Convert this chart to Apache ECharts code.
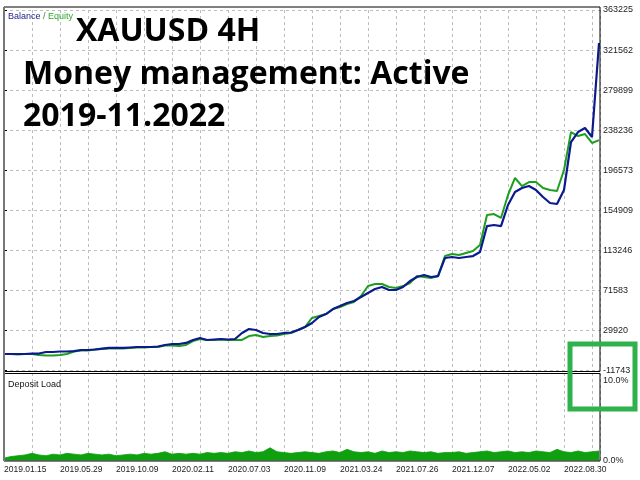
<!DOCTYPE html>
<html>
<head>
<meta charset="utf-8">
<script src="https://cdn.jsdelivr.net/npm/echarts@6/dist/echarts.min.js"></script>
<style>html,body{margin:0;padding:0;background:#fff}#c{width:640px;height:480px}</style>
</head>
<body>
<div id="c"></div>
<script>
const dateLabels = ['2019.01.15','2019.05.29','2019.10.09','2020.02.11','2020.07.03','2020.11.09','2021.03.24','2021.07.26','2021.12.07','2022.05.02','2022.08.30'];
const yTickLabels = ['-11743','29920','71583','113246','154909','196573','238236','279899','321562','363225'];
const depositTickLabels = ['0.0%','10.0%'];

const balance = [5400,5400,5400,5400,5900,5900,7500,7500,8000,8000,
  8500,9600,9600,10100,11100,11700,11700,11700,12200,12700,
  12700,12700,13200,14800,15800,15800,16900,20000,22100,20000,
  20500,21000,20500,21000,27300,31400,30400,27300,26200,26200,
  27300,27800,30400,33500,37700,43900,47000,52200,55300,58500,
  60500,64700,68900,73000,75100,72000,72000,75100,81300,85500,
  87600,85500,86500,105300,106300,105300,106300,107300,111500,138500,
  139600,138500,160400,173900,178100,180100,176000,168700,162500,161400,
  176000,225900,236300,240500,231100,328900];

const equity = [5400,5400,4900,5400,5400,4400,3800,3800,4400,5400,
  8000,9100,9100,10100,10600,11100,11100,11100,11700,12200,
  12200,12700,12700,14300,14300,13700,14800,18900,21000,20000,
  20000,20500,20000,20000,20000,24100,25200,23100,24100,24700,
  26200,27300,30400,33500,42900,44900,47000,52200,54300,57400,
  59500,65700,76100,78200,78200,75100,74100,76100,79300,86500,
  85500,84500,86500,107300,109400,108400,110500,112500,118800,150000,
  151000,146900,170800,188500,180100,184300,184300,178100,176000,174900,
  196800,236300,232100,234200,224900,227900];

const depositLoad = [0.3,0.5,0.6,0.7,0.9,0.7,0.6,0.8,0.7,0.9,
  0.8,0.7,0.9,0.8,0.7,0.8,0.6,0.7,0.8,0.7,
  0.9,0.8,0.9,1.1,0.8,0.9,0.8,0.9,0.8,1.0,
  0.9,1.0,0.9,1.1,1.0,1.2,1.0,1.1,1.6,1.1,
  1.0,0.9,1.0,1.1,1.0,0.9,1.1,1.2,1.0,1.4,
  1.1,1.0,1.1,0.9,1.2,1.0,1.1,1.0,1.2,1.1,
  1.0,1.1,0.9,1.0,1.0,1.1,0.9,1.0,1.1,1.2,
  1.0,1.1,1.2,1.0,1.1,1.0,1.2,1.1,1.0,1.4,
  1.1,1.0,1.2,1.0,1.1,1.2];

const Y_MIN = -11743, Y_STEP = 41663;
const X_MAX = 596 / 7;

const toPairs = arr => arr.map((v, i) => [i, v]);

const dashed = {show: true, lineStyle: {color: '#bdbdbd', type: [3, 3], width: 1}};
const font = '"Liberation Sans", Arial, sans-serif';

const chart = echarts.init(document.getElementById('c'), null, {renderer: 'canvas'});
chart.setOption({
  animation: false,
  backgroundColor: '#ffffff',
  grid: [
    {left: 4, right: 40, top: 10, height: 360.5},
    {left: 4, right: 40, top: 373, height: 87.5}
  ],
  xAxis: [
    {gridIndex: 0, type: 'value', min: 0, max: X_MAX, interval: 4,
     axisLine: {show: false}, axisTick: {show: false}, axisLabel: {show: false},
     splitLine: dashed},
    {gridIndex: 1, type: 'value', min: 0, max: X_MAX, interval: 4,
     axisLine: {show: false}, axisTick: {show: false},
     axisLabel: {show: true, align: 'left', margin: 5, fontSize: 8.5, color: '#222', fontFamily: font,
       formatter: v => {
         const k = v / 8;
         if (Math.abs(k - Math.round(k)) < 1e-6 && dateLabels[Math.round(k)]) return dateLabels[Math.round(k)];
         return '';
       }},
     splitLine: dashed}
  ],
  yAxis: [
    {gridIndex: 0, type: 'value', position: 'right', min: Y_MIN, max: Y_MIN + 9 * Y_STEP, interval: Y_STEP,
     axisLine: {show: true, lineStyle: {color: '#000', width: 1}},
     axisTick: {show: true, length: 3, lineStyle: {color: '#000'}},
     axisLabel: {show: true, margin: 3, fontSize: 9, color: '#222', fontFamily: font, padding: [3, 0, 0, 0],
       formatter: v => {
         const k = Math.round((v - Y_MIN) / Y_STEP);
         return yTickLabels[k] || '';
       }},
     splitLine: dashed},
    {gridIndex: 1, type: 'value', position: 'right', min: 0, max: 11, interval: 10,
     axisLine: {show: true, lineStyle: {color: '#000', width: 1}},
     axisTick: {show: false},
     axisLabel: {show: true, margin: 3, fontSize: 9, color: '#222', fontFamily: font, padding: [3, 0, 0, 0],
       formatter: v => v === 0 ? depositTickLabels[0] : (v === 10 ? depositTickLabels[1] : '')},
     splitLine: {show: false}}
  ],
  series: [
    {name: 'Equity', type: 'line', xAxisIndex: 0, yAxisIndex: 0, data: toPairs(equity),
     showSymbol: false, symbol: 'none', lineStyle: {color: '#1e9e1e', width: 2}, z: 2},
    {name: 'Balance', type: 'line', xAxisIndex: 0, yAxisIndex: 0, data: toPairs(balance),
     showSymbol: false, symbol: 'none', lineStyle: {color: '#0b1a8e', width: 2.2}, z: 3},
    {name: 'Deposit Load', type: 'line', xAxisIndex: 1, yAxisIndex: 1, data: toPairs(depositLoad),
     showSymbol: false, symbol: 'none', lineStyle: {color: '#0d9e0d', width: 0.8},
     areaStyle: {color: '#0fa00f', opacity: 1}, z: 2}
  ],
  graphic: [
    {type: 'rect', z: 100, shape: {x: 4, y: 7, width: 596, height: 364.5},
     style: {fill: 'none', stroke: '#000', lineWidth: 1}},
    {type: 'rect', z: 100, shape: {x: 4, y: 373.5, width: 596, height: 87.5},
     style: {fill: 'none', stroke: '#000', lineWidth: 1}},
    {type: 'line', z: 101, shape: {x1: 4, y1: 7, x2: 4, y2: 461}, style: {stroke: '#777', lineWidth: 2}},
    {type: 'text', z: 100, x: 8, y: 17,
     style: {text: '{b|Balance}{s| / }{e|Equity}', font: '9px ' + font, verticalAlign: 'middle', textVerticalAlign: 'middle',
       rich: {b: {fill: '#1a1a8c', color: '#1a1a8c', fontSize: 9, fontFamily: font},
              s: {fill: '#3a8a3a', color: '#3a8a3a', fontSize: 9, fontFamily: font},
              e: {fill: '#2ea82e', color: '#2ea82e', fontSize: 9, fontFamily: font}}}},
    {type: 'text', z: 100, x: 8, y: 385,
     style: {text: 'Deposit Load', font: '9px ' + font, fill: '#111', verticalAlign: 'middle', textVerticalAlign: 'middle'}},
    {type: 'text', z: 100, x: 76, y: 32,
     style: {text: 'XAUUSD 4H', font: 'bold 32px "Open Sans", sans-serif', fill: '#000', verticalAlign: 'middle', textVerticalAlign: 'middle'}},
    {type: 'text', z: 100, x: 23, y: 75,
     style: {text: 'Money management: Active', font: 'bold 32px "Open Sans", sans-serif', fill: '#000', verticalAlign: 'middle', textVerticalAlign: 'middle'}},
    {type: 'text', z: 100, x: 23, y: 117,
     style: {text: '2019-11.2022', font: 'bold 32px "Open Sans", sans-serif', fill: '#000', verticalAlign: 'middle', textVerticalAlign: 'middle'}},
    {type: 'rect', z: 102, shape: {x: 570, y: 344, width: 65, height: 65},
     style: {fill: 'none', stroke: '#2fb14c', lineWidth: 5}}
  ]
});
</script>
</body>
</html>
